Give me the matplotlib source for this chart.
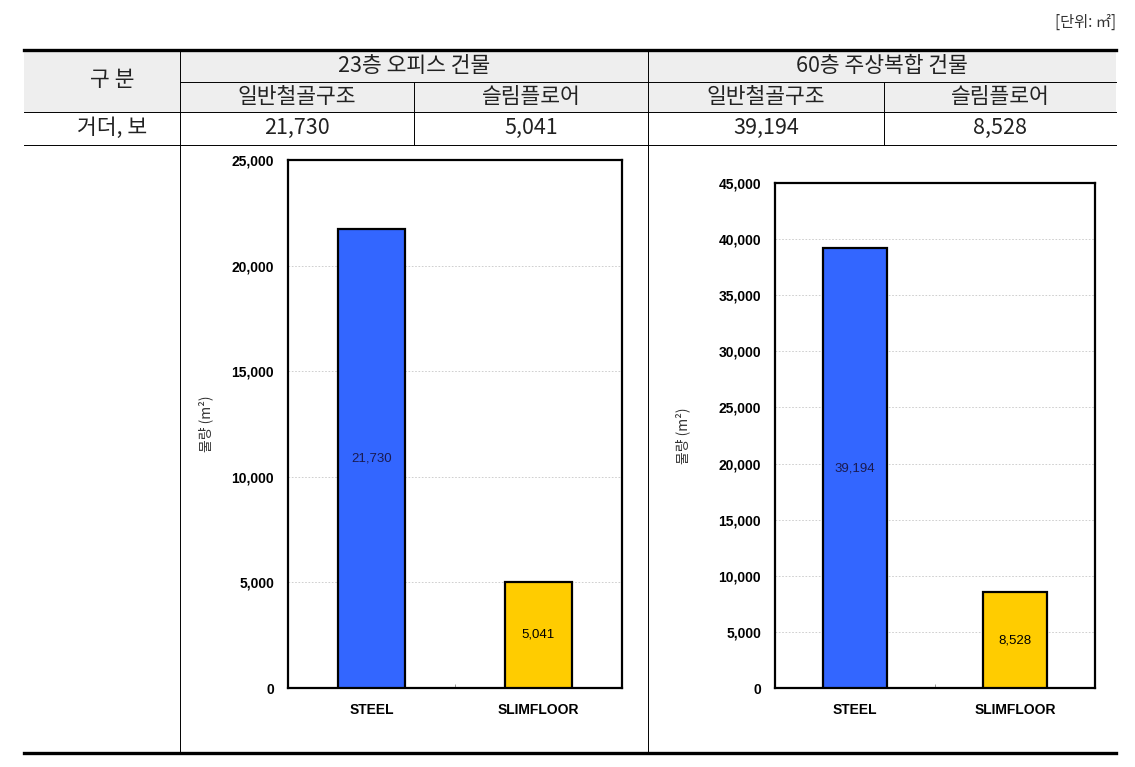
import matplotlib
matplotlib.use('Agg')
import matplotlib.pyplot as plt
from matplotlib.patches import Rectangle
from matplotlib.ticker import FuncFormatter, FixedLocator

# --- data ---
buildings = ['23층 오피스 건물', '60층 주상복합 건물']
systems = ['일반철골구조', '슬림플로어']
header_label = '구 분'
row_label = '거더, 보'
unit_label = '[단위: ㎡]'
categories = ['STEEL', 'SLIMFLOOR']
office_values = [21730, 5041]
mixed_values = [39194, 8528]
office_ymax = 25000
mixed_ymax = 45000
ylabel = '물량 (m²)'
bar_colors = ['#3366FF', '#FFCC00']
value_colors = ['#1a1a50', '#000000']

KR = ['Noto Sans CJK KR', 'DejaVu Sans']
plt.rcParams['font.family'] = KR

W, H = 1135, 767
fig = plt.figure(figsize=(W / 100, H / 100), dpi=100)

# overlay axes in pixel coordinates for the table frame
tab = fig.add_axes([0, 0, 1, 1], zorder=0)
tab.set_xlim(0, W)
tab.set_ylim(H, 0)
tab.axis('off')

x0, x1 = 24, 1116
cols = [180, 414, 648, 884]
tab.add_patch(Rectangle((x0, 50), x1 - x0, 62, color='#eeeeee', lw=0))
tab.plot([x0, x1], [50, 50], color='black', lw=2.4)
tab.plot([cols[0], x1], [82, 82], color='black', lw=0.7)
tab.plot([x0, x1], [112, 112], color='black', lw=0.7)
tab.plot([x0, x1], [145, 145], color='black', lw=0.7)
tab.plot([x0, x1], [753, 753], color='black', lw=2.4)
tab.plot([cols[0], cols[0]], [50, 753], color='black', lw=0.7)
tab.plot([cols[2], cols[2]], [50, 753], color='black', lw=0.7)
tab.plot([cols[1], cols[1]], [82, 145], color='black', lw=0.7)
tab.plot([cols[3], cols[3]], [82, 145], color='black', lw=0.7)

tcol = '#222222'
fs = 15.5
tab.text(x1, 22, unit_label, ha='right', va='center', fontsize=11, color='#333333')
tab.text(112, 80, header_label, ha='center', va='center', fontsize=fs, color=tcol)
tab.text(112, 128, row_label, ha='center', va='center', fontsize=fs, color=tcol)
bounds = [cols[0], cols[2], x1]
for i, b in enumerate(buildings):
    tab.text((bounds[i] + bounds[i + 1]) / 2, 66, b, ha='center', va='center',
             fontsize=fs, color=tcol)
sub_bounds = [cols[0], cols[1], cols[2], cols[3], x1]
all_values = office_values + mixed_values
for j in range(4):
    cx = (sub_bounds[j] + sub_bounds[j + 1]) / 2
    tab.text(cx, 97, systems[j % 2], ha='center', va='center', fontsize=fs, color=tcol)
    tab.text(cx, 128, f'{all_values[j]:,}', ha='center', va='center', fontsize=fs, color=tcol)


def bar_panel(rect, values, ymax, ylabel_x):
    l, r, t, b = rect
    ax = fig.add_axes([l / W, (H - b) / H, (r - l) / W, (b - t) / H], zorder=2)
    x = range(len(categories))
    ax.bar(x, values, width=0.4, color=bar_colors, edgecolor='black', linewidth=1.6, zorder=3)
    for i, v in enumerate(values):
        ax.text(i, v / 2, f'{v:,}', ha='center', va='center', fontsize=9.5,
                family='Liberation Sans', color=value_colors[i], zorder=4)
    ax.set_xlim(-0.5, 1.5)
    ax.set_ylim(0, ymax)
    ax.yaxis.set_major_locator(FixedLocator(list(range(0, ymax + 1, 5000))))
    ax.yaxis.set_major_formatter(FuncFormatter(lambda v, p: f'{int(v):,}'))
    ax.set_xticks(list(x))
    ax.set_xticklabels(categories)
    ax.xaxis.set_minor_locator(FixedLocator([0.5]))
    ax.tick_params(axis='both', which='major', length=0)
    ax.tick_params(axis='y', labelsize=10, pad=10)
    ax.tick_params(axis='x', labelsize=10, pad=11)
    ax.tick_params(axis='x', which='minor', direction='in', length=3, width=0.6, color='#888888')
    for lab in ax.get_xticklabels() + ax.get_yticklabels():
        lab.set_family('Liberation Sans')
        lab.set_fontweight('bold')
    ax.grid(axis='y', color='#c8c8c8', linestyle=(0, (2, 2)), linewidth=0.6, zorder=1)
    for s in ax.spines.values():
        s.set_linewidth(1.6)
    fig.text(ylabel_x / W, 1 - (t + b) / 2 / H, ylabel, rotation=90, ha='center',
             va='center', fontsize=10, color='#333333')
    return ax


bar_panel((288, 622, 160, 688), office_values, office_ymax, 206)
bar_panel((775, 1095, 183, 688), mixed_values, mixed_ymax, 683)

fig.savefig('out.png', dpi=100)
